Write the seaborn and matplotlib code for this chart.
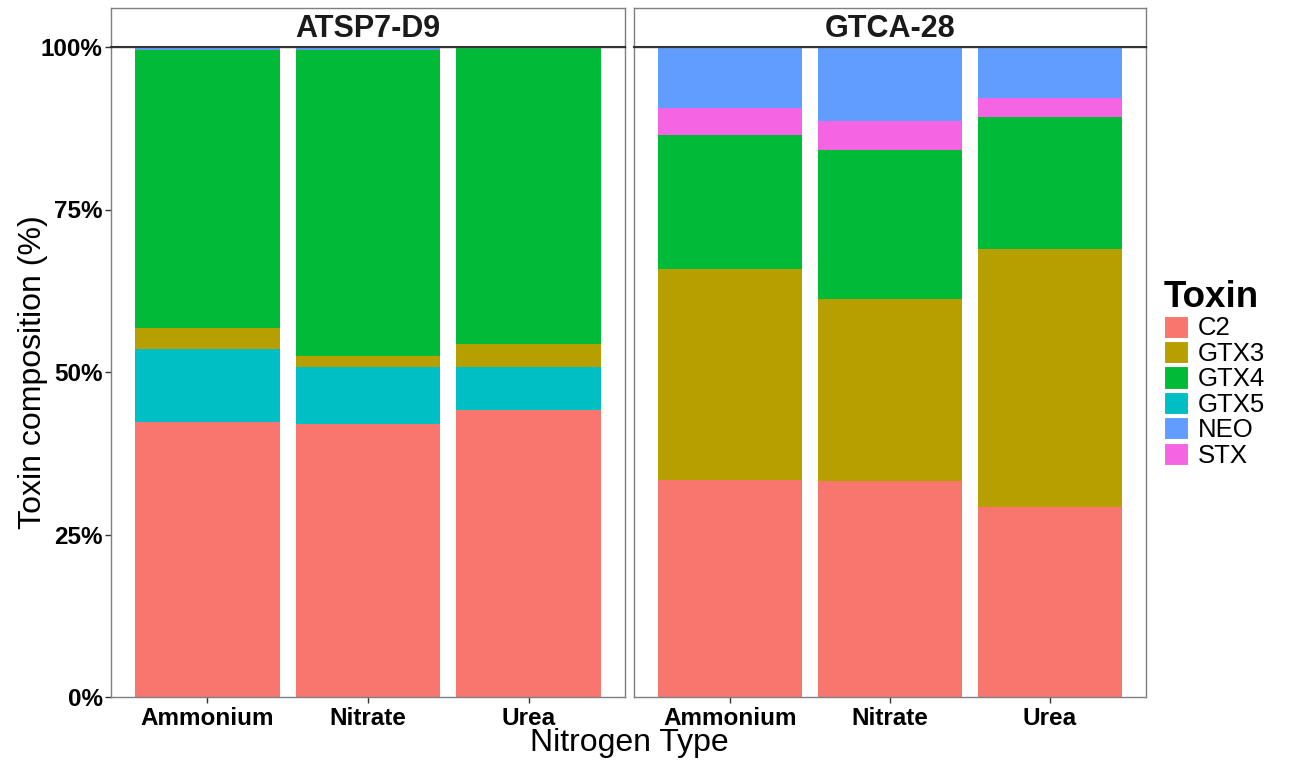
import matplotlib
matplotlib.use("Agg")
import matplotlib.pyplot as plt
import seaborn as sns
import numpy as np
import pandas as pd
from matplotlib.patches import Patch
from matplotlib.ticker import PercentFormatter

# values (% of total toxin per bar)
strains = ["ATSP7-D9", "GTCA-28"]
nitrogen = ["Ammonium", "Nitrate", "Urea"]
toxins = ["C2", "GTX3", "GTX4", "GTX5", "NEO", "STX"]
stack_order = ["C2", "GTX5", "GTX3", "GTX4", "STX", "NEO"]  # bottom -> top
toxin_colors = ["#F8766D", "#B79F00", "#00BA38", "#00BFC4", "#619CFF", "#F564E3"]

atsp_c2 = [42.3, 42.0, 44.2]
atsp_gtx3 = [3.2, 1.8, 3.5]
atsp_gtx4 = [42.8, 47.0, 45.7]
atsp_gtx5 = [11.2, 8.7, 6.6]
atsp_neo = [0.5, 0.5, 0.0]
atsp_stx = [0.0, 0.0, 0.0]

gtca_c2 = [33.4, 33.3, 29.3]
gtca_gtx3 = [32.5, 28.0, 39.7]
gtca_gtx4 = [20.5, 22.8, 20.3]
gtca_gtx5 = [0.0, 0.0, 0.0]
gtca_neo = [9.4, 11.4, 7.9]
gtca_stx = [4.2, 4.5, 2.8]

values = {
    "ATSP7-D9": [atsp_c2, atsp_gtx3, atsp_gtx4, atsp_gtx5, atsp_neo, atsp_stx],
    "GTCA-28": [gtca_c2, gtca_gtx3, gtca_gtx4, gtca_gtx5, gtca_neo, gtca_stx],
}

rows = []
for s in strains:
    for t, vals in zip(toxins, values[s]):
        for n, v in zip(nitrogen, vals):
            rows.append({"Strain": s, "Nitrogen": n, "Toxin": t, "amount": v})
df = pd.DataFrame(rows)

# position = "fill": share of each bar, then stack in order
df["share"] = df["amount"] / df.groupby(["Strain", "Nitrogen"])["amount"].transform("sum")
df["rank"] = df["Toxin"].map({t: i for i, t in enumerate(stack_order)})
df = df.sort_values(["Strain", "Nitrogen", "rank"])
df["top"] = df.groupby(["Strain", "Nitrogen"])["share"].cumsum()

palette = dict(zip(toxins, toxin_colors))

sns.set_theme(style="white")
plt.rcParams["font.family"] = ["Liberation Sans", "DejaVu Sans"]
plt.rcParams["text.color"] = "black"
plt.rcParams["axes.labelcolor"] = "black"

W, H = 1290, 761
fig = plt.figure(figsize=(W / 100, H / 100), dpi=100)

def fx(px):
    return px / W

def fy(py):
    return 1 - py / H

panels = [(111, 625), (634, 1146)]
top_px, bot_px, strip_top = 47, 697, 8
border = "#7f7f7f"

for i, (s, (x0, x1)) in enumerate(zip(strains, panels)):
    ax = fig.add_axes([fx(x0), fy(bot_px), fx(x1 - x0), (bot_px - top_px) / H])
    sub = df[df["Strain"] == s]
    # paint from the top layer down so each layer covers the ones above it
    for t in stack_order[::-1]:
        layer = sub[sub["Toxin"] == t]
        sns.barplot(data=layer, x="Nitrogen", y="top", order=nitrogen,
                    color=palette[t], saturation=1, width=0.9,
                    errorbar=None, linewidth=0, ax=ax)
    ax.set_xlim(-0.6, 2.6)
    ax.set_ylim(0, 1)
    ax.set_xlabel("")
    ax.set_ylabel("")
    for sp in ax.spines.values():
        sp.set_color(border)
        sp.set_linewidth(1.0)
    ax.tick_params(axis="both", length=4, width=1, color="#333333",
                   labelsize=17.5, labelcolor="black", pad=2)
    ax.tick_params(axis="x", bottom=True, pad=3)
    for lab in ax.get_xticklabels():
        lab.set_fontweight("bold")
    ax.set_yticks([0, 0.25, 0.5, 0.75, 1.0])
    if i == 0:
        ax.yaxis.set_major_formatter(PercentFormatter(1.0, decimals=0))
        ax.tick_params(axis="y", left=True)
        for lab in ax.get_yticklabels():
            lab.set_fontweight("bold")
    else:
        ax.tick_params(axis="y", left=False, labelleft=False)

    # facet strip
    sax = fig.add_axes([fx(x0), fy(top_px), fx(x1 - x0), (top_px - strip_top) / H])
    sax.set_xticks([])
    sax.set_yticks([])
    sax.set_facecolor("white")
    for sp in sax.spines.values():
        sp.set_color(border)
        sp.set_linewidth(1.0)
    sax.spines["bottom"].set_color("#333333")
    sax.spines["bottom"].set_linewidth(1.5)
    sax.text(0.5, 0.45, s, ha="center", va="center", fontsize=22,
             fontweight="bold", color="#1a1a1a", transform=sax.transAxes)

fig.text(fx(629), fy(743), "Nitrogen Type", ha="center", va="center", fontsize=23)
fig.text(fx(33), fy(372), "Toxin composition (%)", ha="center", va="center",
         rotation=90, fontsize=23)

handles = [Patch(facecolor=palette[t], edgecolor="white", linewidth=0.8, label=t)
           for t in toxins]
leg = fig.legend(handles=handles, title="Toxin", loc="upper left",
                 bbox_to_anchor=(fx(1164), fy(280)), frameon=False,
                 fontsize=18.5, handlelength=0.95, handleheight=0.95,
                 handletextpad=0.35, labelspacing=0.02, borderpad=0,
                 borderaxespad=0)
leg.get_title().set_fontsize(26.5)
leg.get_title().set_fontweight("bold")
leg._legend_box.align = "left"

fig.savefig("out.png", dpi=100)
